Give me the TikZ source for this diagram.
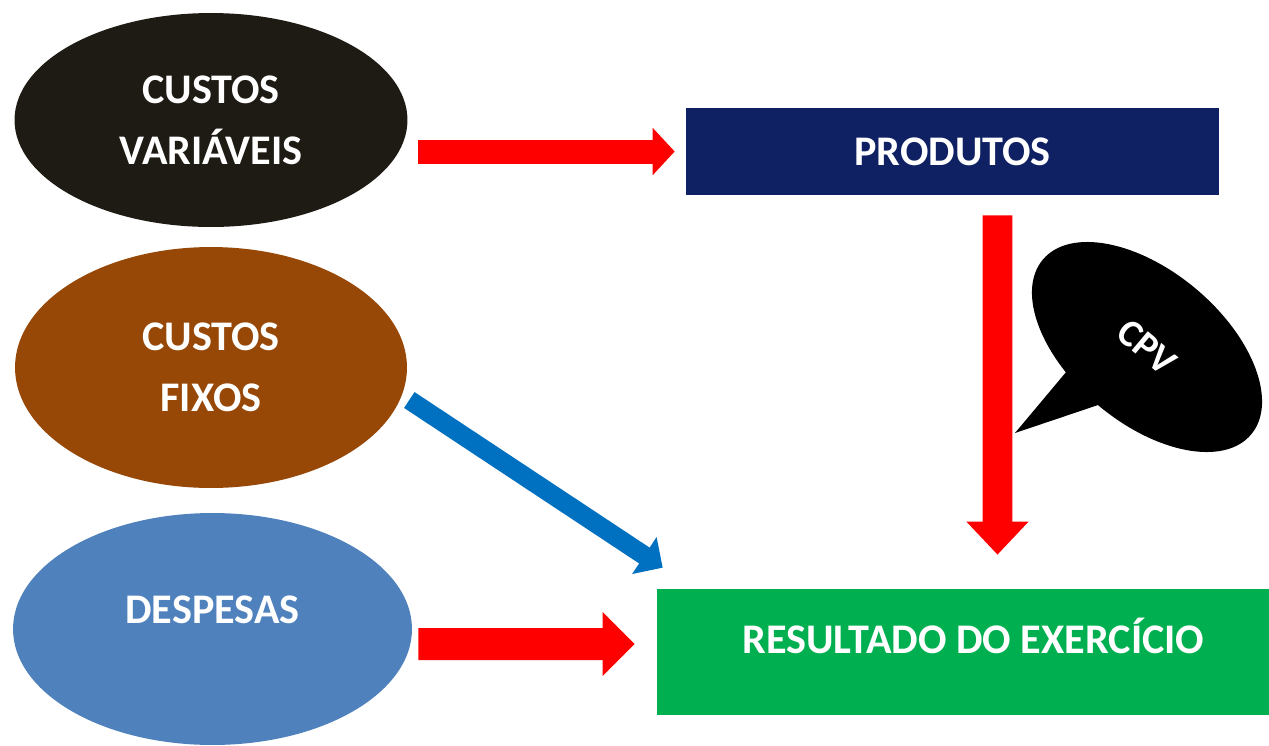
\documentclass[tikz,border=0pt]{standalone}
\usepackage{fontspec}
\setmainfont{Carlito}
\usetikzlibrary{arrows.meta,shapes.geometric}
\definecolor{cvblack}{HTML}{1E1A14}
\definecolor{cfbrown}{HTML}{974706}
\definecolor{despblue}{HTML}{4F81BD}
\definecolor{prodnavy}{HTML}{0F2063}
\definecolor{resgreen}{HTML}{00B050}
\definecolor{arrowblue}{HTML}{0070C0}

\begin{document}
\begin{tikzpicture}[x=0.02cm, y=-0.02cm,
	box/.style={draw=none, text=white, font=\fontsize{24}{34.6}\selectfont\bfseries},
	oval/.style={box, ellipse, inner sep=0pt},
	twoline/.style={align=center},
	fatarrow/.style n args={3}{line width=#1, -{Triangle[length=#2, width=#3]}}]
	\useasboundingbox (0,0) rectangle (1269,745);
	\fill[white] (0,0) rectangle (1269,745);
	\clip (0,0) rectangle (1269,745);
	\node[oval, twoline, fill=cvblack, minimum width=7.86cm, minimum height=4.28cm] (cv) at (211,120) {CUSTOS\\VARIÁVEIS};
	\node[oval, twoline, fill=cfbrown, minimum width=7.84cm, minimum height=4.82cm] (cf) at (211,367.5) {CUSTOS\\FIXOS};
	\node[oval, fill=despblue, minimum width=7.98cm, minimum height=4.64cm, text depth=0.76cm] (desp) at (212.5,629) {DESPESAS};
	\node[box, fill=prodnavy, minimum width=10.66cm, minimum height=1.74cm] (prod) at (952.5,151.5) {PRODUTOS};
	\node[box, fill=resgreen, minimum width=12.66cm, minimum height=2.52cm, text depth=0.64cm] (res) at (973.5,652) {RESULTADO DO EXERCÍCIO};
	\draw[red, fatarrow={0.48cm}{0.44cm}{0.92cm}, shorten <=0.21cm, shorten >=0.22cm] (cv.east |- prod.west) -- (prod.west);
	\draw[red, fatarrow={0.6cm}{0.66cm}{1.2cm}, shorten <=0.4cm, shorten >=0.68cm] ([xshift=0.9cm]prod.south) -- ([xshift=0.48cm]res.north);
	\draw[red, fatarrow={0.64cm}{0.64cm}{1.24cm}, shorten <=0.12cm, shorten >=0.44cm] ([yshift=-0.3cm]desp.east) -- ([yshift=0.16cm]res.west);
	\draw[arrowblue, fatarrow={0.38cm}{0.44cm}{0.86cm}] ([shift={(0.04cm,-0.65cm)}]cf.east) -- ([shift={(0.12cm,0.42cm)}]res.north west);
	\node[oval, fill=black, rotate=-40, minimum width=5.44cm, minimum height=3.04cm, font=\fontsize{22}{26}\selectfont\bfseries] (cpv) at (1147,347) {CPV};
	\coordinate (cpvtip) at (1015,433);
	\fill ([shift={(-75,18)}]cpv.center) -- (cpvtip) -- ([shift={(-40,55)}]cpv.center) -- cycle;
\end{tikzpicture}
\end{document}
